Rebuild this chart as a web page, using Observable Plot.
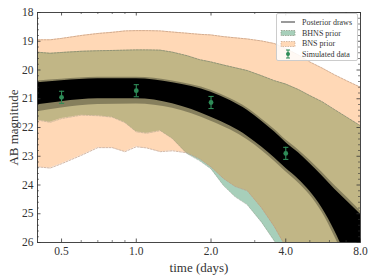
<!DOCTYPE html>
<html><head><meta charset="utf-8">
<script src="https://cdn.jsdelivr.net/npm/d3@7"></script>
<script src="https://cdn.jsdelivr.net/npm/@observablehq/plot@0.6"></script>
<style>
body{margin:0;background:#fff;}
#wrap{position:relative;width:374px;height:280px;font-family:"Liberation Serif","Times New Roman","DejaVu Serif",serif;}
#wrap svg text{font-family:"Liberation Serif","Times New Roman","DejaVu Serif",serif;}
.legend{position:absolute;left:276px;top:13px;width:82px;height:48px;box-sizing:border-box;border:0.8px solid #cccccc;border-radius:2px;background:rgba(255,255,255,0.85);font-size:8px;color:#333;}
.row{position:absolute;left:3px;height:10px;display:flex;align-items:center;white-space:nowrap;}
.row svg{margin-right:6px;}
</style></head><body><div id="wrap"></div>
<script>
// time grid for priors (days)
const T = [0.4, 0.45, 0.5, 0.6, 0.7, 0.8, 0.9, 1.0, 1.1, 1.25, 1.4, 1.6, 1.8, 2.0, 2.25, 2.5, 2.8, 3.2, 3.6, 4.0, 4.5, 5.0, 5.6, 6.3, 7.1, 8.0];
const bnsUpper  = [18.95,18.95,18.90,18.80,18.73,18.69,18.64,18.63,18.63,18.64,18.68,18.72,18.76,18.78,18.84,18.88,18.92,18.99,19.08,19.25,19.48,19.72,19.93,20.17,20.39,20.60];
const bnsLower  = [23.37,23.41,23.26,22.97,22.70,22.70,22.84,22.67,22.71,22.84,22.81,22.88,23.09,23.37,23.78,24.05,24.20,24.80,25.45,26.15,27.0,27.7,28.4,29.1,29.8,30.5];
const bhnsUpper = [19.38,19.42,19.39,19.35,19.33,19.32,19.31,19.30,19.30,19.31,19.38,19.50,19.64,19.72,19.83,19.92,20.02,20.20,20.37,20.49,20.68,20.89,21.10,21.38,21.66,21.94];
const bhnsLower = [21.74,21.82,21.69,21.57,21.59,21.64,21.83,22.15,22.20,22.11,22.39,22.91,23.16,23.44,24.03,24.41,24.69,25.30,25.95,26.60,27.5,28.3,29.0,29.8,30.5,31.2];

// posterior draws envelope
const TP = [0.4, 0.5, 0.7, 1.0, 1.4, 2.0, 2.4, 2.8, 3.2, 3.6, 4.0, 4.5, 5.0, 5.6, 6.3, 7.1, 8.0];
const postUpper = [20.44,20.37,20.30,20.30,20.44,20.77,21.07,21.40,21.78,22.15,22.52,22.88,23.25,23.68,24.15,24.58,25.02];
const postLower = [21.21,21.10,21.00,21.00,21.17,21.64,21.96,22.30,22.68,23.05,23.42,23.80,24.22,24.80,25.60,26.60,27.70];
const postFringeTop = [20.38,20.32,20.25,20.25,20.38,20.70,21.00,21.32,21.70,22.06,22.43,22.78,23.14,23.56,24.02,24.45,24.90];
const postFringeBot = [21.45,21.32,21.20,21.18,21.33,21.78,22.09,22.43,22.80,23.17,23.54,23.93,24.35,24.95,25.80,26.80,27.90];

// simulated data
const simT = [0.5, 1.0, 2.0, 4.0];
const simMag = [20.95, 20.72, 21.13, 22.90];
const simErr = [0.21, 0.21, 0.21, 0.21];

// ticks
const xMajor = [0.5, 1, 2, 4, 8];
const xMinor = [0.6, 0.7, 0.8, 0.9, 3, 5, 6, 7];
const yMajor = [18, 19, 20, 21, 22, 23, 24, 25, 26];
const yMinor = d3.range(18.2, 26, 0.2).filter(v => Math.abs(v - Math.round(v)) > 0.05);

const innerW = 374 - 37 - 14, innerH = 280 - 12 - 38;
const green = "#2e8b57";
const ink = "#333";
const capSymbol = {draw(ctx){ ctx.moveTo(-2.6, 0); ctx.lineTo(2.6, 0); }};

const chart = Plot.plot({
  width: 374, height: 280,
  marginLeft: 37, marginRight: 14, marginTop: 12, marginBottom: 38,
  x: {type: "log", domain: [0.4, 8], axis: null},
  y: {domain: [18, 26], reverse: true, axis: null},
  style: {fontFamily: "'Liberation Serif', 'Times New Roman', 'DejaVu Serif', serif", fontSize: "11.5px", background: "white", color: ink},
  marks: [
    Plot.areaY(T, {x: T, y1: bhnsLower, y2: bhnsUpper, fill: "#a7cfba", clip: true}),
    Plot.areaY(T, {x: T, y1: bnsLower, y2: bnsUpper, fill: "#ff7f0e", fillOpacity: 0.3, clip: true}),
    Plot.lineY(bhnsUpper, {x: T, stroke: "#7d8570", strokeWidth: 0.7, strokeDasharray: "2,1.3", clip: true}),
    Plot.lineY(bhnsLower, {x: T, stroke: "#7d8570", strokeWidth: 0.6, strokeDasharray: "2,1.3", strokeOpacity: 0.6, clip: true}),
    Plot.lineY(bnsUpper, {x: T, stroke: "#c09a80", strokeWidth: 0.7, strokeDasharray: "2,1.3", clip: true}),
    Plot.lineY(bnsLower, {x: T, stroke: "#c09a80", strokeWidth: 0.7, strokeDasharray: "2,1.3", clip: true}),
    Plot.areaY(TP, {x: TP, y1: postFringeBot, y2: postFringeTop, fill: "#000", fillOpacity: 0.3, curve: "monotone-x", clip: true}),
    Plot.areaY(TP, {x: TP, y1: postLower, y2: postUpper, fill: "#000", curve: "monotone-x", clip: true}),
    Plot.ruleX(simT, {x: simT, y1: simT.map((d,i)=>simMag[i]-simErr[i]), y2: simT.map((d,i)=>simMag[i]+simErr[i]), stroke: green, strokeWidth: 1.1}),
    Plot.dot(simT, {x: simT, y: simT.map((d,i)=>simMag[i]-simErr[i]), symbol: capSymbol, stroke: green, strokeWidth: 1.1, r: 3}),
    Plot.dot(simT, {x: simT, y: simT.map((d,i)=>simMag[i]+simErr[i]), symbol: capSymbol, stroke: green, strokeWidth: 1.1, r: 3}),
    Plot.dot(simT, {x: simT, y: simMag, r: 2.4, fill: green}),
    Plot.frame({stroke: ink, strokeWidth: 0.9}),
    Plot.tickX(xMajor, {x: d => d, insetTop: innerH - 3.5, stroke: ink, strokeWidth: 0.8}),
    Plot.tickX(xMajor, {x: d => d, insetBottom: innerH - 3.5, stroke: ink, strokeWidth: 0.8}),
    Plot.tickX(xMinor, {x: d => d, insetTop: innerH - 2, stroke: ink, strokeWidth: 0.6}),
    Plot.tickX(xMinor, {x: d => d, insetBottom: innerH - 2, stroke: ink, strokeWidth: 0.6}),
    Plot.tickY(yMajor, {y: d => d, insetRight: innerW - 3.5, stroke: ink, strokeWidth: 0.8}),
    Plot.tickY(yMajor, {y: d => d, insetLeft: innerW - 3.5, stroke: ink, strokeWidth: 0.8}),
    Plot.tickY(yMinor, {y: d => d, insetRight: innerW - 2, stroke: ink, strokeWidth: 0.6}),
    Plot.tickY(yMinor, {y: d => d, insetLeft: innerW - 2, stroke: ink, strokeWidth: 0.6}),
    Plot.text(xMajor, {x: d => d, frameAnchor: "bottom", dy: 9, text: d => d.toFixed(1), fill: ink, fontSize: 11.5, lineAnchor: "middle"}),
    Plot.text(yMajor, {y: d => d, frameAnchor: "left", dx: -4, text: d => String(d), fill: ink, fontSize: 11.5, textAnchor: "end", lineAnchor: "middle"}),
    Plot.text(["AB magnitude"], {frameAnchor: "left", dx: -24, rotate: -90, fontSize: 13, fill: ink, textAnchor: "middle", lineAnchor: "middle"}),
    Plot.text(["time (days)"], {frameAnchor: "bottom", dy: 25, fontSize: 13, fill: ink, textAnchor: "middle", lineAnchor: "middle"})
  ]
});
const wrap = document.getElementById("wrap");
wrap.appendChild(chart);

const legendItems = [
  {label: "Posterior draws", kind: "line"},
  {label: "BHNS prior", kind: "bhns"},
  {label: "BNS prior", kind: "bns"},
  {label: "Simulated data", kind: "err"}
];
const rowTops = [3, 14, 24.5, 35];
const lg = document.createElement("div");
lg.className = "legend";
legendItems.forEach((it, i) => {
  const r = document.createElement("div");
  r.className = "row";
  r.style.top = rowTops[i] + "px";
  let g = "";
  if (it.kind === "line") g = '<line x1="1" y1="5" x2="15" y2="5" stroke="#808080" stroke-width="1.6"/>';
  if (it.kind === "bhns") g = '<rect x="1" y="2.5" width="14" height="5" fill="#a7cfba" stroke="#7d8570" stroke-width="0.6" stroke-dasharray="1.5,1"/>';
  if (it.kind === "bns") g = '<rect x="1" y="2.5" width="14" height="5" fill="#ffd9b7" stroke="#c09a80" stroke-width="0.6" stroke-dasharray="1.5,1"/>';
  if (it.kind === "err") g = '<line x1="8" y1="1" x2="8" y2="9" stroke="'+green+'" stroke-width="1"/><line x1="6" y1="1" x2="10" y2="1" stroke="'+green+'" stroke-width="1"/><line x1="6" y1="9" x2="10" y2="9" stroke="'+green+'" stroke-width="1"/><circle cx="8" cy="5" r="2" fill="'+green+'"/>';
  r.innerHTML = '<svg width="16" height="10">' + g + '</svg><span>' + it.label + '</span>';
  lg.appendChild(r);
});
wrap.appendChild(lg);
</script>
</body></html>
